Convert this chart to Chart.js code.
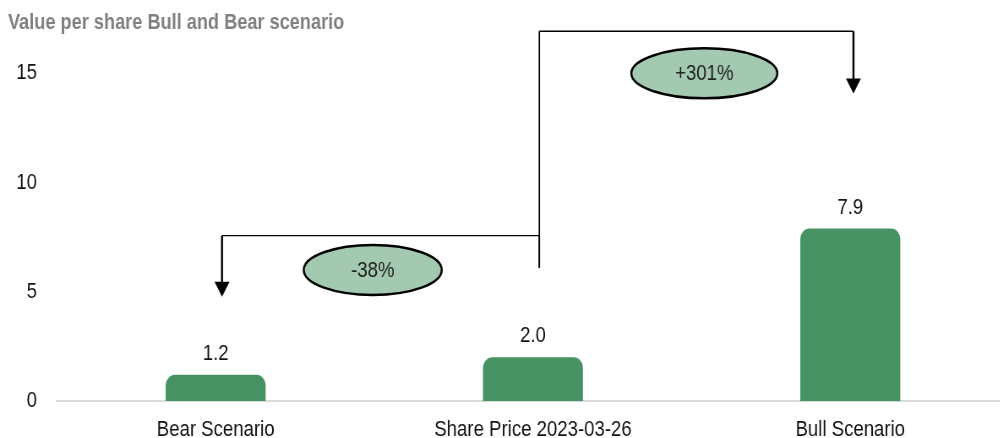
<!DOCTYPE html>
<html>
<head>
<meta charset="utf-8">
<title>Value per share Bull and Bear scenario</title>
<script src="https://cdn.jsdelivr.net/npm/chart.js@4.4.1/dist/chart.umd.min.js"></script>
<style>
  html, body { margin: 0; padding: 0; background: #fff; overflow: hidden; }
  /* no narrow font is installed: draw wide and squeeze to get the Arial Narrow look */
  #wrap { width: 1194px; height: 438px; transform: scaleX(0.845); transform-origin: 0 0; }
</style>
</head>
<body>
<div id="wrap"><canvas id="chart-scenarios"></canvas></div>
<script>
  // data
  const categories = ["Bear Scenario", "Share Price 2023-03-26", "Bull Scenario"];
  const valuePerShare = [1.2, 2.0, 7.9];
  const yTicks = [0, 5, 10, 15];
  const changeLabels = ["-38%", "+301%"];

  const SX = 0.845;
  const BAR = "#469262";
  const PILL = "#a3c9b1";
  const FONT = "'Liberation Sans', Arial, sans-serif";

  // bracket arrows, positioned in axis units (category index / value)
  const brackets = [
    { fromX: 1.02, baseY: 6.1, topY: 7.57, toX: 0.02, tipY: 4.77, pillX: 0.495, pillY: 6.0, rx: 69, ry: 25 },
    { fromX: 1.02, baseY: 6.1, topY: 16.93, toX: 2.01, tipY: 14.08, pillX: 1.54, pillY: 15.0, rx: 73, ry: 25 }
  ];

  const barLabels = {
    id: "barLabels",
    afterDatasetsDraw(chart) {
      const ctx = chart.ctx;
      const meta = chart.getDatasetMeta(0);
      ctx.save();
      ctx.fillStyle = "#111";
      ctx.font = "22px " + FONT;
      ctx.textAlign = "center";
      ctx.textBaseline = "middle";
      meta.data.forEach(function (bar, i) {
        ctx.fillText(valuePerShare[i].toFixed(1), bar.x, bar.y - 21);
      });
      ctx.restore();
    }
  };

  const bracketArrows = {
    id: "bracketArrows",
    afterDatasetsDraw(chart) {
      const ctx = chart.ctx;
      const x = chart.scales.x, y = chart.scales.y;
      ctx.save();
      ctx.strokeStyle = "#000";
      ctx.fillStyle = "#000";
      brackets.forEach(function (b, i) {
        const x0 = x.getPixelForValue(b.fromX);
        const x1 = x.getPixelForValue(b.toX);
        const yb = y.getPixelForValue(b.baseY);
        const yt = y.getPixelForValue(b.topY);
        const tip = y.getPixelForValue(b.tipY);
        ctx.lineWidth = 1.4 / SX;
        ctx.beginPath();
        ctx.moveTo(x0, yb);
        ctx.lineTo(x0, yt);
        ctx.stroke();
        ctx.lineWidth = 1.4;
        ctx.beginPath();
        ctx.moveTo(x0, yt);
        ctx.lineTo(x1, yt);
        ctx.stroke();
        ctx.lineWidth = 2 / SX;
        ctx.beginPath();
        ctx.moveTo(x1, yt);
        ctx.lineTo(x1, tip - 14);
        ctx.stroke();
        ctx.beginPath();
        ctx.moveTo(x1 - 7.5 / SX, tip - 15);
        ctx.lineTo(x1 + 7.5 / SX, tip - 15);
        ctx.lineTo(x1, tip);
        ctx.closePath();
        ctx.fill();

        const px = x.getPixelForValue(b.pillX);
        const py = y.getPixelForValue(b.pillY);
        ctx.beginPath();
        ctx.ellipse(px, py, b.rx / SX, b.ry, 0, 0, Math.PI * 2);
        ctx.fillStyle = PILL;
        ctx.fill();
        ctx.lineWidth = 2.5;
        ctx.stroke();
        ctx.fillStyle = "#222";
        ctx.font = "22px " + FONT;
        ctx.textAlign = "center";
        ctx.textBaseline = "middle";
        ctx.fillText(changeLabels[i], px, py + 1);
        ctx.fillStyle = "#000";
      });
      ctx.restore();
    }
  };

  new Chart(document.getElementById("chart-scenarios"), {
    type: "bar",
    data: {
      labels: categories,
      datasets: [{
        data: valuePerShare,
        backgroundColor: BAR,
        borderWidth: 0,
        borderRadius: { topLeft: 11, topRight: 11 },
        borderSkipped: "bottom",
        barPercentage: 1,
        categoryPercentage: 0.315
      }]
    },
    options: {
      responsive: true,
      maintainAspectRatio: false,
      animation: false,
      layout: { padding: { left: 8 / SX, right: 0, top: 0, bottom: 0 } },
      plugins: {
        legend: { display: false },
        tooltip: { enabled: false },
        title: {
          display: true,
          text: "Value per share Bull and Bear scenario",
          align: "start",
          color: "#808080",
          font: { family: FONT, size: 21.5, weight: "bold", lineHeight: 1.2 },
          padding: { top: 10, bottom: 4.8 }
        }
      },
      scales: {
        x: {
          grid: { display: false, drawTicks: false },
          border: { display: true, color: "#d9d9d9", width: 2 },
          ticks: { color: "#111", font: { family: FONT, size: 22 }, padding: 16, maxRotation: 0 },
          afterFit: function (s) { s.height = 37; }
        },
        y: {
          min: 0,
          max: 16.5,
          grid: { display: false, drawTicks: false },
          border: { display: false },
          ticks: { color: "#111", font: { family: FONT, size: 22 }, padding: 20 / SX },
          afterBuildTicks: function (s) { s.ticks = yTicks.map(function (v) { return { value: v }; }); },
          afterFit: function (s) { s.width = 49 / SX; }
        }
      }
    },
    plugins: [barLabels, bracketArrows]
  });
</script>
</body>
</html>
